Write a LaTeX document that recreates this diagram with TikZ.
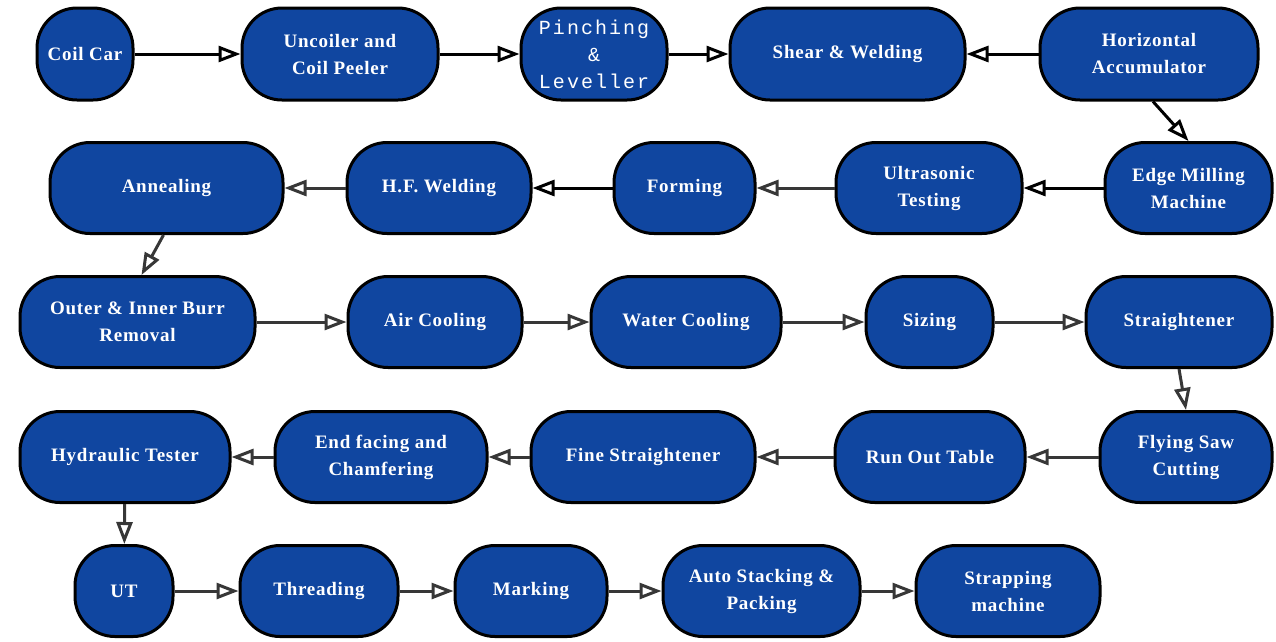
\documentclass[tikz,border=0pt]{standalone}
\usepackage{fontspec}
\setmainfont{Liberation Serif}[LetterSpace=4]
\newfontfamily\monofam{Liberation Mono}[LetterSpace=10]
\usetikzlibrary{arrows.meta}
\definecolor{boxblue}{RGB}{16,70,160}
\definecolor{arrgray}{RGB}{55,55,55}
\tikzset{
  box/.style={draw=black, line width=3pt, fill=boxblue, text=white, rounded corners=40pt,
    align=center, inner sep=2pt, font=\fontsize{19}{27}\selectfont\bfseries},
  flow/.style={draw=arrgray, line width=3pt, -{Triangle[open, length=22pt, width=16pt, fill=white]}},
  flowk/.style={flow, draw=black}
}
\newcommand{\bx}[6]{\node[box, minimum width=#4pt, minimum height=#5pt] (#1) at (#2,#3) {#6};}
\begin{document}
\begin{tikzpicture}[x=1pt,y=-1pt]
\useasboundingbox (0,0) rectangle (1276,641);
% Row 1
\bx{coil}{85}{54}{96}{92}{Coil Car}
\bx{uncoil}{340}{54}{196}{92}{Uncoiler and\\Coil Peeler}
\bx{pinch}{594}{54}{146}{92}{\monofam\mdseries\fontsize{20}{27}\selectfont Pinching\\\monofam\mdseries\fontsize{20}{27}\selectfont \&\\\monofam\mdseries\fontsize{20}{27}\selectfont Leveller}
\bx{shear}{847.5}{54}{235}{92}{Shear \& Welding}
\bx{horiz}{1149}{54}{218}{92}{Horizontal\\Accumulator}
% Row 2
\bx{anneal}{166.5}{188}{233}{91}{Annealing}
\bx{hf}{439}{188}{184}{91}{H.F. Welding}
\bx{forming}{684.5}{188}{141}{91}{Forming}
\bx{ultra}{929}{188}{186}{91}{Ultrasonic\\Testing}
\bx{edge}{1188.5}{188}{167}{91}{Edge Milling\\Machine}
% Row 3
\bx{outer}{137.5}{322}{235}{91}{Outer \& Inner Burr\\Removal}
\bx{air}{435}{322}{174}{91}{Air Cooling}
\bx{water}{686}{322}{190}{91}{Water Cooling}
\bx{sizing}{929.5}{322}{127}{91}{Sizing}
\bx{straight}{1179}{322}{186}{91}{Straightener}
% Row 4
\bx{hydr}{125}{457}{210}{91}{Hydraulic Tester}
\bx{endf}{381}{457}{212}{91}{End facing and\\Chamfering}
\bx{fine}{643}{457}{224}{91}{Fine Straightener}
\bx{runout}{930}{457}{190}{91}{Run Out Table}
\bx{flying}{1186}{457}{172}{91}{Flying Saw\\Cutting}
% Row 5
\bx{ut}{124}{591}{98}{91}{UT}
\bx{thread}{319}{591}{158}{91}{Threading}
\bx{mark}{531}{591}{152}{91}{Marking}
\bx{auto}{761.5}{591}{197}{91}{Auto Stacking \&\\Packing}
\bx{strap}{1008}{591}{184}{91}{Strapping\\machine}
% Connectors
\draw[flowk] (coil) -- (uncoil);
\draw[flowk] (uncoil) -- (pinch);
\draw[flowk] (pinch) -- (shear);
\draw[flowk] (horiz) -- (shear);
\draw[flowk] ([xshift=4pt]horiz.south) -- (edge.north);
\draw[flowk] (edge) -- (ultra);
\draw[flow] (ultra) -- (forming);
\draw[flowk] (forming) -- (hf);
\draw[flow] (hf) -- (anneal);
\draw[flow] ([xshift=-3pt]anneal.south) -- ([xshift=4pt]outer.north);
\draw[flow] (outer) -- (air);
\draw[flow] (air) -- (water);
\draw[flow] (water) -- (sizing);
\draw[flow] (sizing) -- (straight);
\draw[flow] (straight.south) -- (flying.north);
\draw[flow] (flying) -- (runout);
\draw[flow] (runout) -- (fine);
\draw[flow] (fine) -- (endf);
\draw[flow] (endf) -- (hydr);
\draw[flow] (hydr) -- (ut);
\draw[flow] (ut) -- (thread);
\draw[flow] (thread) -- (mark);
\draw[flow] (mark) -- (auto);
\draw[flow] (auto) -- (strap);
\end{tikzpicture}
\end{document}
